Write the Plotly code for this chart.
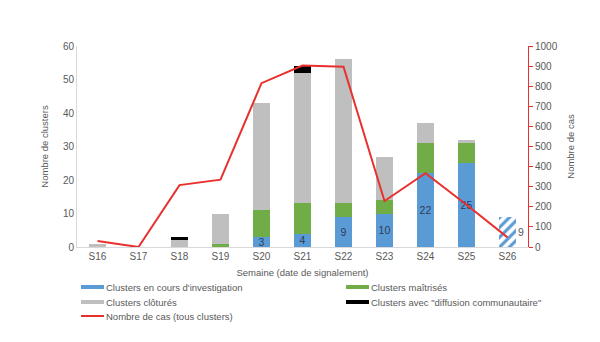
import plotly.graph_objects as go

weeks = ["S16", "S17", "S18", "S19", "S20", "S21", "S22", "S23", "S24", "S25", "S26"]
en_cours = [0, 0, 0, 0, 3, 4, 9, 10, 22, 25, 9]
maitrises = [0, 0, 0, 1, 8, 9, 4, 4, 9, 6, 0]
clotures = [1, 0, 2, 9, 32, 39, 43, 13, 6, 1, 0]
diffusion = [0, 0, 1, 0, 0, 2, 0, 0, 0, 0, 0]
cas = [30, 0, 308, 335, 815, 903, 897, 229, 367, 210, 48]
en_cours_labels = ["", "", "", "", "3", "4", "9", "10", "22", "25", ""]
hatch = ["", "", "", "", "", "", "", "", "", "", "/"]
legend_names = ["Clusters en cours d'investigation", "Clusters maîtrisés",
                "Clusters clôturés", 'Clusters avec "diffusion communautaire"',
                "Nombre de cas (tous clusters)"]

BLUE = "#5b9bd5"
GREEN = "#70ad47"
GREY = "#bfbfbf"
BLACK = "#000000"
RED = "#e8312f"
TXT = "#595959"
FONT = "Liberation Sans, Arial, sans-serif"

W, H = 600, 342
L, R, T, B = 77, 72, 46, 95
PW, PH = W - L - R, H - T - B

fig = go.Figure()
fig.add_bar(x=weeks, y=en_cours, name=legend_names[0],
            marker=dict(color=BLUE, line=dict(width=0),
                        pattern=dict(shape=hatch, fillmode="replace", size=7, solidity=0.45)),
            text=en_cours_labels, textposition="inside", insidetextanchor="middle",
            constraintext="none", cliponaxis=False,
            textfont=dict(color="#2e3b55", size=10.5, family=FONT), textangle=0,
            showlegend=False)
fig.add_bar(x=weeks, y=maitrises, name=legend_names[1], marker=dict(color=GREEN, line=dict(width=0)), showlegend=False)
fig.add_bar(x=weeks, y=clotures, name=legend_names[2], marker=dict(color=GREY, line=dict(width=0)), showlegend=False)
fig.add_bar(x=weeks, y=diffusion, name=legend_names[3], marker=dict(color=BLACK, line=dict(width=0)), showlegend=False)
fig.add_scatter(x=weeks, y=cas, yaxis="y2", mode="lines", line=dict(color=RED, width=2),
                name=legend_names[4], showlegend=False)

# label beside hatched S26 bar
fig.add_annotation(x=weeks[-1], y=en_cours[-1] / 2, text=str(en_cours[-1]), showarrow=False,
                   xshift=13, font=dict(color=TXT, size=10.5, family=FONT))

# manual two-column legend (pixel layout converted to paper coords)
def px_x(p):
    return (p - L) / PW

def px_y(p):
    return (H - B - p) / PH

legend_cols = [81, 346, 81, 346, 81]
legend_rows = [287, 287, 302, 302, 316]
legend_colors = [BLUE, GREEN, GREY, BLACK, RED]
legend_widths = [4, 4, 4, 4, 2]
for nm, cx, ry, col, lw in zip(legend_names, legend_cols, legend_rows, legend_colors, legend_widths):
    fig.add_shape(type="line", xref="paper", yref="paper",
                  x0=px_x(cx), x1=px_x(cx + 23), y0=px_y(ry), y1=px_y(ry),
                  line=dict(color=col, width=lw))
    fig.add_annotation(xref="paper", yref="paper", x=px_x(cx + 23), y=px_y(ry),
                       xanchor="left", yanchor="middle", showarrow=False, text=nm,
                       font=dict(size=9.5, color=TXT, family=FONT))

fig.update_layout(
    barmode="stack", bargap=0.6,
    width=W, height=H,
    margin=dict(l=L, r=R, t=T, b=B, autoexpand=False),
    paper_bgcolor="white", plot_bgcolor="white",
    font=dict(family=FONT, size=10, color=TXT),
    showlegend=False,
    xaxis=dict(showgrid=False, showline=True, linecolor="#d9d9d9", ticks="",
               tickfont=dict(size=10, color=TXT),
               title=dict(text="Semaine (date de signalement)", standoff=8, font=dict(size=9.5, color=TXT))),
    yaxis=dict(range=[0, 60], dtick=10, showgrid=False, showline=True, linecolor="#d9d9d9",
               zeroline=False, ticks="", tickfont=dict(size=10, color=TXT),
               title=dict(text="Nombre de clusters", standoff=12, font=dict(size=9.5, color=TXT))),
    yaxis2=dict(range=[0, 1000], dtick=100, overlaying="y", side="right", showgrid=False,
                showline=True, linecolor=RED, linewidth=1, ticks="outside", tickcolor=RED,
                ticklen=4, zeroline=False, tickfont=dict(size=10, color=TXT),
                title=dict(text="Nombre de cas", standoff=10, font=dict(size=9.5, color=TXT))),
)

fig.write_html("out.html")
